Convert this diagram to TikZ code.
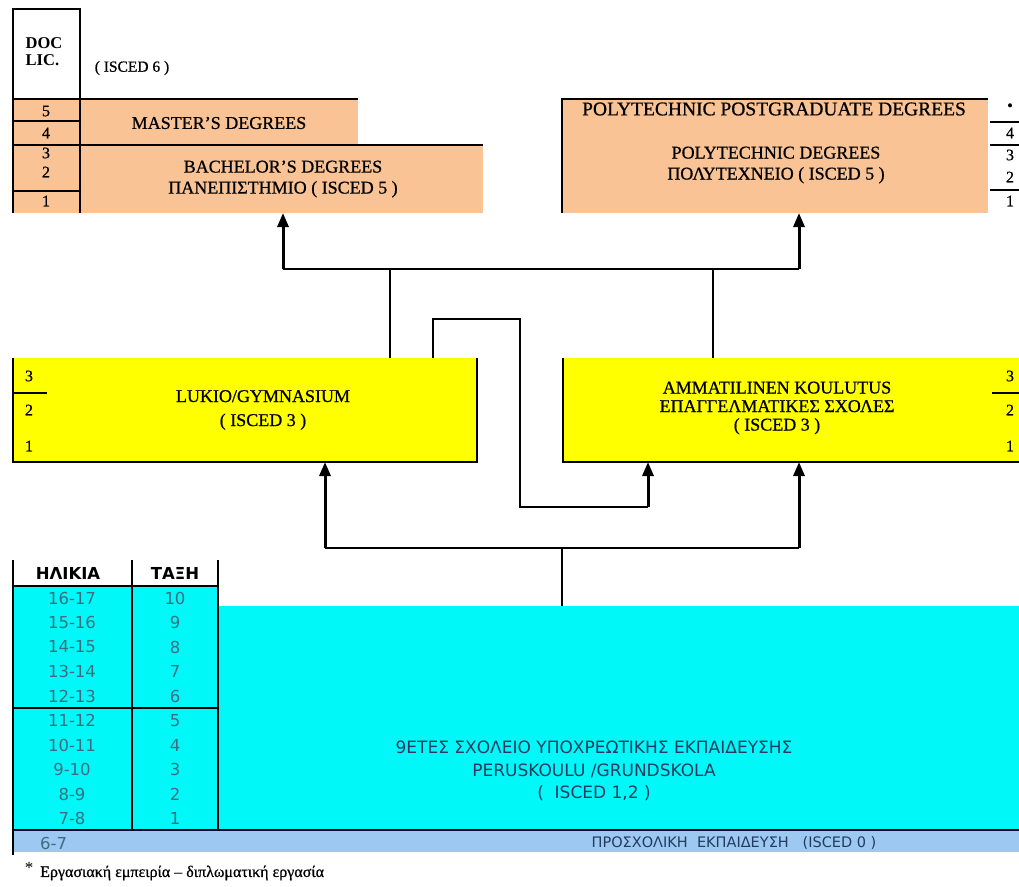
\documentclass[tikz,border=0pt]{standalone}
\usepackage{fontspec}
\setmainfont{Liberation Serif}
\newfontfamily\serb[FakeBold=0.7]{Liberation Serif}
\newfontfamily\sansf{DejaVu Sans}
\usetikzlibrary{arrows.meta}
\definecolor{peach}{RGB}{249,195,150}
\definecolor{yel}{RGB}{255,255,0}
\definecolor{cyn}{RGB}{0,248,248}
\definecolor{lblue}{RGB}{156,200,242}
\definecolor{ctext}{RGB}{35,60,95}
\definecolor{ttext}{RGB}{60,110,130}
\tikzset{
  fillbox/.style={inner sep=0pt, outer sep=0pt, anchor=north west, draw=none},
  ln/.style={line width=1.3pt, black},
  conn/.style={line width=1.4pt, black},
  thk/.style={line width=2.6pt, black},
  arr/.style={-{Triangle[width=11pt,length=14pt]}, line width=3pt, black},
  serlab/.style={inner sep=0pt, align=center, font=\serb\fontsize{18}{21}\selectfont},
  numlab/.style={inner sep=0pt, font=\serb\fontsize{16}{16}\selectfont},
  tablab/.style={inner sep=0pt, text=ttext, font=\sansf\fontsize{16.5}{16.5}\selectfont},
}
\begin{document}
\begin{tikzpicture}[x=1pt,y=-1pt]
\useasboundingbox (0,0) rectangle (1019,886);
\fill[white] (0,0) rectangle (1019,886);

% ---------- top left (university) ----------
\node[fillbox, fill=peach, minimum width=67pt, minimum height=114pt] (lcol) at (13,99) {};
\node[fillbox, fill=peach, minimum width=278pt, minimum height=46pt] (mast) at (80,99) {};
\node[fillbox, fill=peach, minimum width=403pt, minimum height=68pt] (bach) at (80,145) {};
\draw[ln] (13,213) -- (13,9) -- (80,9) -- (80,213);
\draw[ln] (13,99) -- (358,99);
\draw[ln] (13,121) -- (80,121);
\draw[ln] (13,145) -- (483,145);
\draw[ln] (13,191) -- (80,191);
\node[inner sep=0pt, align=left, font=\bfseries\fontsize{16.5}{17}\selectfont] (doc) at (44,52) {DOC\\LIC.};
\node[serlab, font=\serb\fontsize{15.5}{17}\selectfont] (isc6) at (132,68) {( ISCED 6 )};
\node[numlab] (l5) at (46,111) {5};
\node[numlab] (l4) at (46,133) {4};
\node[numlab] (l3) at (46,153) {3};
\node[numlab] (l2) at (46,172) {2};
\node[numlab] (l1) at (46,201) {1};
\node[serlab] (masttxt) at (219,123) {MASTER’S DEGREES};
\node[serlab] (bachtxt) at (283,179) {BACHELOR’S DEGREES\\ΠΑΝΕΠΙΣΤΗΜΙΟ ( ISCED 5 )};

% ---------- top right (polytechnic) ----------
\node[fillbox, fill=peach, minimum width=426pt, minimum height=114pt] (poly) at (562,99) {};
\draw[ln] (562,213) -- (562,99) -- (988,99);
\draw[ln] (990,122) -- (1019,122);
\draw[ln] (990,145) -- (1019,145);
\draw[ln] (990,190) -- (1019,190);
\node[numlab] (r0) at (1010,107) {•};
\node[numlab] (r4) at (1010,133) {4};
\node[numlab] (r3) at (1010,155) {3};
\node[numlab] (r2) at (1010,177) {2};
\node[numlab] (r1) at (1010,201) {1};
\node[serlab, font=\serb\fontsize{19.5}{21}\selectfont] (pgtxt) at (774,109) {POLYTECHNIC POSTGRADUATE DEGREES};
\node[serlab] (polytxt) at (776,165) {POLYTECHNIC DEGREES\\ΠΟΛΥΤΕΧΝΕΙΟ ( ISCED 5 )};

% ---------- yellow boxes ----------
\node[fillbox, fill=yel, minimum width=464pt, minimum height=104pt] (lyk) at (13,358) {};
\draw[ln] (13,358) -- (13,462) -- (477,462) -- (477,358);
\draw[ln] (13,393) -- (47,393);
\node[numlab] (y3) at (29,376) {3};
\node[numlab] (y2) at (29,410) {2};
\node[numlab] (y1) at (29,446) {1};
\node[serlab, font=\serb\fontsize{18}{24}\selectfont] (lyktxt) at (263,410) {LUKIO/GYMNASIUM\\( ISCED 3 )};

\node[fillbox, fill=yel, minimum width=456pt, minimum height=104pt] (amm) at (563,358) {};
\draw[ln] (563,358) -- (563,462) -- (1019,462);
\draw[ln] (992,393) -- (1019,393);
\node[numlab] (z3) at (1010,376) {3};
\node[numlab] (z2) at (1010,410) {2};
\node[numlab] (z1) at (1010,446) {1};
\node[serlab, font=\serb\fontsize{18}{18.5}\selectfont] (ammtxt) at (777,408) {AMMATILINEN KOULUTUS\\ΕΠΑΓΓΕΛΜΑΤΙΚΕΣ ΣΧΟΛΕΣ\\( ISCED 3 )};

% ---------- compulsory school ----------
\node[fillbox, fill=cyn, minimum width=205pt, minimum height=244pt] (tab) at (13,586) {};
\node[fillbox, fill=cyn, minimum width=801pt, minimum height=224pt] (comp) at (218,606) {};
\node[fillbox, fill=lblue, minimum width=1006pt, minimum height=22pt] (pre) at (13,830) {};
\draw[ln] (13,560) -- (13,855);
\draw[ln] (132,560) -- (132,830);
\draw[ln] (218,560) -- (218,830);
\draw[ln] (13,586) -- (218,586);
\draw[ln] (13,708) -- (218,708);
\draw[line width=1.3pt, black!80!blue] (13,830) -- (1019,830);
\node[inner sep=0pt, font=\sansf\bfseries\fontsize{16.5}{16.5}\selectfont] (hage) at (68,573) {ΗΛΙΚΙΑ};
\node[inner sep=0pt, font=\sansf\bfseries\fontsize{16.5}{16.5}\selectfont] (hcls) at (175,573) {ΤΑΞΗ};
\foreach \a/\c [count=\i from 0] in {16-17/10,15-16/9,14-15/8,13-14/7,12-13/6,11-12/5,10-11/4,9-10/3,8-9/2,7-8/1}{
  \node[tablab] (age\i) at (72,{598+24.5*\i}) {\a};
  \node[tablab] (cls\i) at (175,{598+24.5*\i}) {\c};
}
\node[tablab, anchor=west] (age67) at (40,843) {6-7};
\node[inner sep=0pt, align=center, text=ctext, font=\sansf\fontsize{17}{22.5}\selectfont] (comptxt) at (594,771)
  {9ΕΤΕΣ ΣΧΟΛΕΙΟ ΥΠΟΧΡΕΩΤΙΚΗΣ ΕΚΠΑΙΔΕΥΣΗΣ\\PERUSKOULU /GRUNDSKOLA\\(\ \ ISCED 1,2 )};
\node[inner sep=0pt, text=ctext, font=\sansf\fontsize{14.5}{14.5}\selectfont] (pretxt) at (734,843)
  {ΠΡΟΣΧΟΛΙΚΗ\ \ ΕΚΠΑΙΔΕΥΣΗ\ \ \ (ISCED 0 )};

% footnote
\node[inner sep=0pt, font=\fontsize{17}{17}\selectfont] (star) at (29,868) {*};
\node[inner sep=0pt, anchor=west, font=\serb\fontsize{16}{16}\selectfont] (foot) at (40,873) {Εργασιακή εμπειρία – διπλωματική εργασία};

% ---------- connectors ----------
\coordinate (tl) at (283,269);
\coordinate (tr) at (799,269);
\draw[thk] (tl) -- (tr);
\draw[arr] (tl) -- (bach.south -| tl);
\draw[arr] (tr) -- (poly.south -| tr);
\coordinate (tj1) at (390,269);
\coordinate (tj2) at (713,269);
\draw[conn] (lyk.north -| tj1) -- (tj1);
\draw[conn] (amm.north -| tj2) -- (tj2);

\coordinate (br1) at (433,319);
\coordinate (br2) at (520,319);
\coordinate (br3) at (520,507);
\coordinate (br4) at (648,507);
\draw[conn] (lyk.north -| br1) -- (br1) -- (br2) -- (br3) -- (br4);
\draw[arr] (br4) -- (amm.south -| br4);

\coordinate (bl) at (325,548);
\coordinate (brr) at (799,548);
\coordinate (bj) at (562,548);
\draw[conn] (bl) -- (brr);
\draw[arr] (bl) -- (lyk.south -| bl);
\draw[arr] (brr) -- (amm.south -| brr);
\draw[conn] (comp.north -| bj) -- (bj);
\end{tikzpicture}
\end{document}
